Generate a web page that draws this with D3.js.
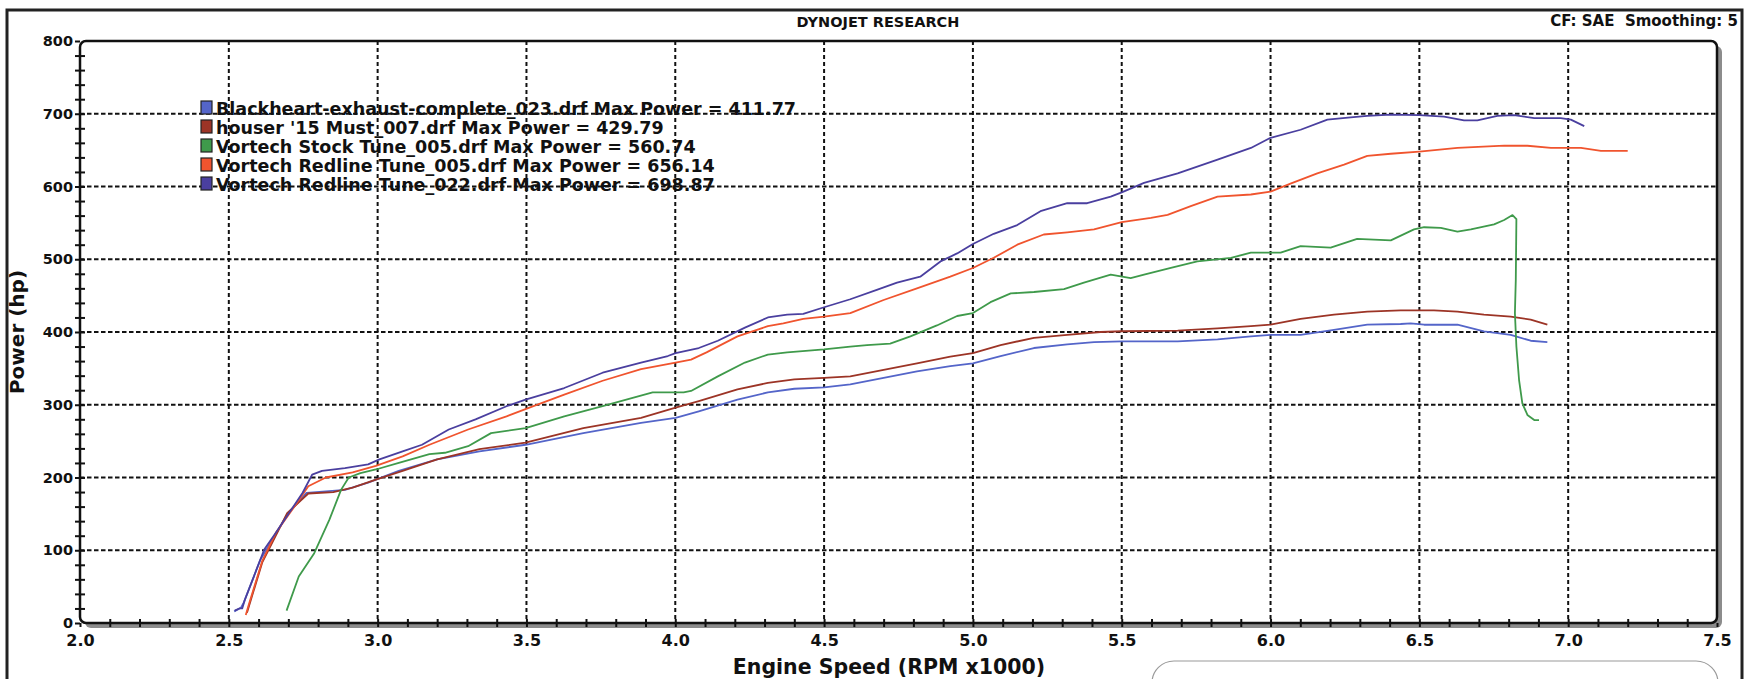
<!DOCTYPE html>
<html>
<head>
<meta charset="utf-8">
<script src="https://cdn.jsdelivr.net/npm/d3@7"></script>
<style>
  body { margin: 0; background: #fff; }
  svg text { font-family: "DejaVu Sans", Verdana, sans-serif; font-weight: bold; fill: #111; }
</style>
</head>
<body>
<div id="dyno"></div>
<script>
// Tick values
const rpmTicks = d3.range(20, 76).map(d => d / 10);   // minor every 0.1, labels every 0.5
const hpTicks = d3.range(0, 801, 20);                  // minor every 20, labels every 100
const hpGrid = [100, 200, 300, 400, 500, 600, 700];
const rpmGrid = [2.5, 3.0, 3.5, 4.0, 4.5, 5.0, 5.5, 6.0, 6.5, 7.0];

// Runs: [rpm x1000, hp]
const blackheart = [[2.518,16],[2.541,21],[2.55,28],[2.606,87],[2.696,149],[2.761,179],[2.826,181],[2.89,183],[2.968,193],[3.071,209],[3.2,225],[3.342,236],[3.497,245],[3.691,261],[3.885,275],[4.001,282],[4.079,291],[4.209,307],[4.311,317],[4.4,322],[4.5,324],[4.588,328],[4.7,337],[4.812,346],[4.924,353],[5.0,357],[5.093,367],[5.205,378],[5.317,383],[5.407,386],[5.5,387],[5.688,387],[5.822,390],[5.934,394],[6.0,396],[6.101,396],[6.213,403],[6.325,410],[6.437,411],[6.471,411.8],[6.516,410],[6.628,410],[6.717,401],[6.807,396],[6.874,388],[6.93,386]];
const houser = [[2.561,14],[2.612,83],[2.696,151],[2.767,178],[2.851,180],[2.916,186],[2.994,197],[3.084,209],[3.2,225],[3.342,239],[3.497,248],[3.691,268],[3.885,282],[4.001,296],[4.079,305],[4.209,321],[4.311,330],[4.4,335],[4.5,337],[4.588,339],[4.7,348],[4.812,357],[4.924,366],[5.0,371],[5.093,382],[5.205,392],[5.317,396],[5.429,400],[5.5,401],[5.688,402],[5.822,405],[5.934,408],[6.0,410],[6.101,418],[6.213,424],[6.325,428],[6.437,429.8],[6.549,429.8],[6.628,428],[6.717,424],[6.807,421],[6.874,417],[6.93,410]];
const stockTune005 = [[2.694,17],[2.735,64],[2.787,96],[2.838,142],[2.877,183],[2.903,200],[2.942,206],[2.994,211],[3.071,220],[3.174,232],[3.226,234],[3.304,243],[3.381,261],[3.497,268],[3.627,284],[3.756,298],[3.924,317],[4.028,317],[4.053,319],[4.143,339],[4.234,358],[4.311,369],[4.376,372],[4.5,376],[4.588,380],[4.644,382],[4.722,384],[4.79,394],[4.879,409],[4.947,422],[5.0,426],[5.059,441],[5.127,453],[5.205,455],[5.306,459],[5.373,468],[5.463,479],[5.53,474],[5.575,479],[5.665,488],[5.754,497],[5.867,502],[5.934,509],[6.034,509],[6.101,518],[6.202,516],[6.291,528],[6.404,526],[6.482,541],[6.516,544],[6.572,543],[6.628,538],[6.673,541],[6.751,548],[6.785,554],[6.813,560.7],[6.826,555],[6.824,472],[6.821,426],[6.826,380],[6.835,334],[6.846,302],[6.863,286],[6.886,279],[6.902,279]];
const redlineTune005 = [[2.557,11],[2.567,25],[2.612,85],[2.658,124],[2.722,161],[2.767,188],[2.826,200],[2.916,207],[2.994,216],[3.084,229],[3.174,245],[3.304,266],[3.433,284],[3.51,296],[3.627,314],[3.756,333],[3.885,349],[4.001,358],[4.053,362],[4.105,372],[4.209,394],[4.311,408],[4.363,412],[4.43,418],[4.5,421],[4.588,426],[4.7,444],[4.812,460],[4.924,476],[5.0,488],[5.07,502],[5.149,520],[5.238,534],[5.317,537],[5.407,541],[5.5,551],[5.598,557],[5.654,561],[5.732,573],[5.822,586],[5.934,589],[6.0,593],[6.067,604],[6.157,618],[6.247,630],[6.325,642],[6.404,645],[6.5,648],[6.628,653],[6.785,656.1],[6.863,656],[6.942,653],[7.043,653],[7.11,649],[7.2,649]];
const redlineTune022 = [[2.52,17],[2.535,20],[2.545,20],[2.554,32],[2.619,101],[2.658,124],[2.748,179],[2.78,204],[2.813,209],[2.89,213],[2.968,218],[3.006,225],[3.084,236],[3.149,245],[3.239,266],[3.329,280],[3.433,298],[3.497,307],[3.627,323],[3.756,344],[3.885,358],[3.975,367],[4.001,371],[4.079,378],[4.143,388],[4.234,406],[4.311,420],[4.376,424],[4.43,425],[4.5,434],[4.588,445],[4.677,458],[4.745,468],[4.823,476],[4.891,497],[4.947,508],[5.0,521],[5.07,535],[5.149,547],[5.227,566],[5.317,577],[5.384,577],[5.463,586],[5.5,592],[5.575,605],[5.688,618],[5.822,637],[5.934,653],[6.0,667],[6.101,678],[6.191,692],[6.269,695],[6.325,697],[6.404,698.9],[6.5,698],[6.583,696],[6.65,691],[6.695,691],[6.762,697],[6.818,698],[6.886,694],[6.975,694],[7.009,692],[7.054,683]];

const runs = [blackheart, houser, stockTune005, redlineTune005, redlineTune022];
const runNames = [
  "Blackheart-exhaust-complete_023.drf Max Power = 411.77",
  "houser '15 Must_007.drf Max Power = 429.79",
  "Vortech Stock Tune_005.drf Max Power = 560.74",
  "Vortech Redline Tune_005.drf Max Power = 656.14",
  "Vortech Redline Tune_022.drf Max Power = 698.87"
];
const runColors = ["#5465c9", "#9c3426", "#3f9a4b", "#f0542e", "#4a3f9f"];

const W = 1753, H = 679;

const svg = d3.select("#dyno")
  .append("svg")
  .attr("width", W)
  .attr("height", H);

const x = d3.scaleLinear().domain([2.0, 7.5]).range([80, 1717]);
const y = d3.scaleLinear().domain([0, 800]).range([623, 41]);

// outer frame (open at the bottom)
svg.append("path")
  .attr("d", `M7,${H} V10 H1742 V${H}`)
  .attr("fill", "none")
  .attr("stroke", "#222")
  .attr("stroke-width", 3);

// titles
svg.append("text")
  .attr("x", 878).attr("y", 27)
  .attr("text-anchor", "middle")
  .style("font-size", "14.5px")
  .text("DYNOJET RESEARCH");

svg.append("text")
  .attr("x", 1738).attr("y", 26)
  .attr("text-anchor", "end")
  .style("font-size", "15px")
  .text("CF: SAE\u00a0\u00a0Smoothing: 5");

// plot box with grey drop shadow
const px0 = x(2.0), px1 = x(7.5), py0 = y(800), py1 = y(0);
svg.append("rect")
  .attr("x", px0 + 5).attr("y", py0 + 5)
  .attr("width", px1 - px0).attr("height", py1 - py0)
  .attr("rx", 6)
  .attr("fill", "#8c8c8c");
svg.append("rect")
  .attr("x", px0).attr("y", py0)
  .attr("width", px1 - px0).attr("height", py1 - py0)
  .attr("rx", 6)
  .attr("fill", "#fff")
  .attr("stroke", "#111")
  .attr("stroke-width", 2.5);

// grid
svg.append("g")
  .selectAll("line")
  .data(hpGrid)
  .enter()
  .append("line")
  .attr("x1", px0).attr("x2", px1)
  .attr("y1", d => y(d)).attr("y2", d => y(d))
  .attr("stroke", "#111")
  .attr("stroke-width", 2)
  .attr("stroke-dasharray", "4.5,2.5");

svg.append("g")
  .selectAll("line")
  .data(rpmGrid)
  .enter()
  .append("line")
  .attr("x1", d => x(d)).attr("x2", d => x(d))
  .attr("y1", py0).attr("y2", py1)
  .attr("stroke", "#111")
  .attr("stroke-width", 2)
  .attr("stroke-dasharray", "4,3");

// axes: ticks cross the frame line on both sides
const yAxisL = svg.append("g")
  .attr("transform", `translate(${px0},0)`)
  .call(d3.axisLeft(y).tickValues(hpTicks).tickSize(5).tickPadding(2)
    .tickFormat(d => d % 100 === 0 ? d : ""));
const yAxisR = svg.append("g")
  .attr("transform", `translate(${px0},0)`)
  .call(d3.axisRight(y).tickValues(hpTicks.filter(d => d > 0 && d < 800)).tickSize(5).tickFormat(""));

const xAxisB = svg.append("g")
  .attr("transform", `translate(0,${py1})`)
  .call(d3.axisBottom(x).tickValues(rpmTicks).tickSize(4).tickPadding(8)
    .tickFormat(d => Math.round(d * 10) % 5 === 0 ? d.toFixed(1) : ""));
const xAxisT = svg.append("g")
  .attr("transform", `translate(0,${py1})`)
  .call(d3.axisTop(x).tickValues(rpmTicks.filter(d => d > 2.0 && d < 7.5)).tickSize(4).tickFormat(""));

[yAxisL, yAxisR, xAxisB, xAxisT].forEach(a => {
  a.select(".domain").remove();
  a.selectAll(".tick line").attr("stroke", "#111").attr("stroke-width", 2);
  a.selectAll("text").attr("font-family", null).attr("font-size", null);
});
yAxisL.selectAll("text").style("font-size", "14.5px");
xAxisB.selectAll("text").style("font-size", "16px");

// axis titles
svg.append("text")
  .attr("x", 889).attr("y", 674)
  .attr("text-anchor", "middle")
  .style("font-size", "20.5px")
  .text("Engine Speed (RPM x1000)");

svg.append("text")
  .attr("transform", "translate(24,332) rotate(-90)")
  .attr("text-anchor", "middle")
  .style("font-size", "20px")
  .text("Power (hp)");

// legend
const legend = svg.append("g")
  .selectAll("g")
  .data(runNames)
  .enter()
  .append("g")
  .attr("transform", (d, i) => `translate(201,${101 + i * 19})`);
legend.append("rect")
  .attr("width", 11).attr("height", 13)
  .attr("fill", (d, i) => runColors[i])
  .attr("stroke", "#222")
  .attr("stroke-width", 1.2);
legend.append("text")
  .attr("x", 15).attr("y", 13.5)
  .style("font-size", "17.5px")
  .text(d => d);

// power curves
const line = d3.line()
  .x(d => x(d[0]))
  .y(d => y(d[1]));

svg.append("g")
  .selectAll("path")
  .data(runs)
  .enter()
  .append("path")
  .attr("d", line)
  .attr("fill", "none")
  .attr("stroke", (d, i) => runColors[i])
  .attr("stroke-width", 1.8)
  .attr("stroke-linejoin", "round");

// partial panel peeking in at the bottom right
svg.append("rect")
  .attr("x", 1152).attr("y", 661)
  .attr("width", 566).attr("height", 60)
  .attr("rx", 22)
  .attr("fill", "#fff")
  .attr("stroke", "#9a9a9a")
  .attr("stroke-width", 1.2);
</script>
</body>
</html>
